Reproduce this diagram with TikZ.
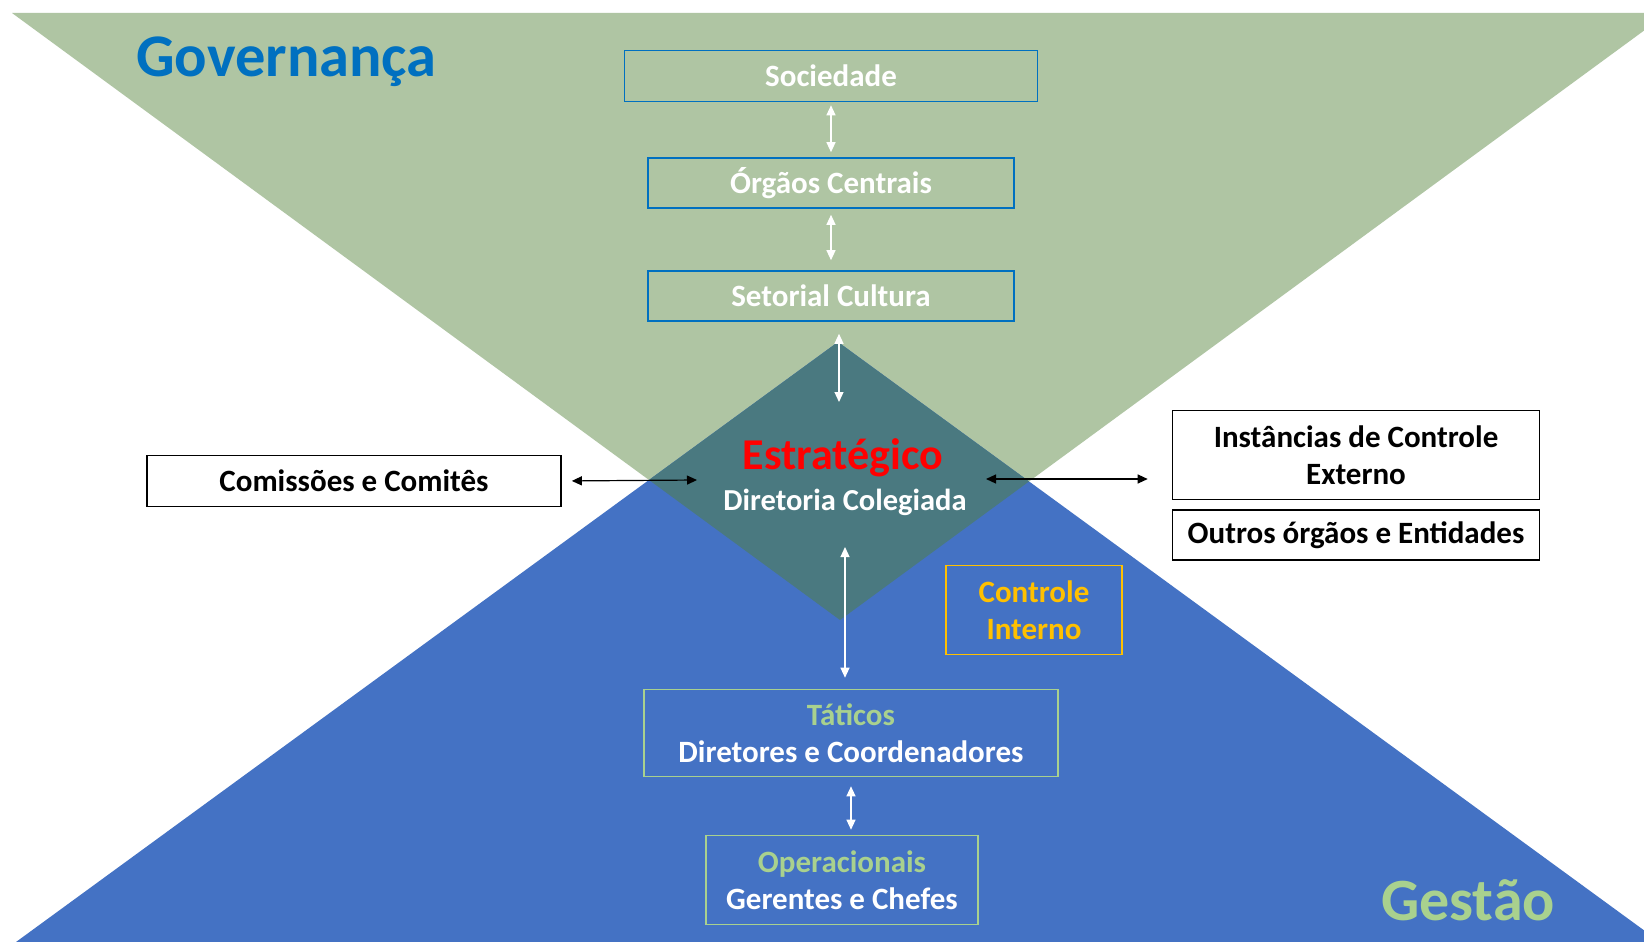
\documentclass[tikz,border=0pt]{standalone}
\usepackage{fontspec}
\setmainfont{Carlito}
\usetikzlibrary{arrows.meta}
\definecolor{govgreen}{RGB}{175,197,163}
\definecolor{gesblue}{RGB}{68,114,196}
\definecolor{dteal}{RGB}{74,121,128}
\definecolor{govtitle}{RGB}{0,112,192}
\definecolor{lgreen}{RGB}{169,209,142}
\definecolor{ciorange}{RGB}{255,192,0}
\begin{document}
\begin{tikzpicture}[x=1pt,y=-1pt,
  boxtext/.style={font=\bfseries\fontsize{31}{37}\selectfont, align=center, inner sep=0pt},
  topbox/.style={boxtext, draw=govtitle, line width=1.6pt, text=white},
  whitebox/.style={boxtext, draw=black, line width=1.6pt, fill=white, text=black},
  lowbox/.style={boxtext, draw=lgreen, line width=1.6pt, text=white},
  wa/.style={{Triangle[length=10pt,width=9pt]}-{Triangle[length=10pt,width=9pt]}, draw=white, line width=1.2pt},
  ba/.style={{Triangle[length=10pt,width=9pt]}-{Triangle[length=10pt,width=9pt]}, draw=black, line width=1.2pt}]
\path[use as bounding box] (0,0) rectangle (1644,942);
\fill[white] (0,0) rectangle (1644,942);
% background triangles
\begin{scope}
\clip (0,0) rectangle (1644,942);
\fill[govgreen] (12,13) -- (1668,13) -- (840,620) -- cycle;
\fill[gesblue] (838,342) -- (1660,942) -- (16,942) -- cycle;
\begin{scope}
\clip (12,13) -- (1668,13) -- (840,620) -- cycle;
\fill[dteal] (838,342) -- (1660,942) -- (16,942) -- cycle;
\end{scope}
\end{scope}
% titles
\node[anchor=base west, inner sep=0pt, text=govtitle, font=\bfseries\fontsize{60.5}{70}\selectfont] (gov) at (136,77) {Governança};
\node[anchor=base west, inner sep=0pt, text=lgreen, font=\bfseries\fontsize{60}{70}\selectfont] (ges) at (1381,920) {Gestão};
% top boxes
\node[topbox, minimum width=413pt, minimum height=51pt] (soc) at (831,76) {Sociedade};
\node[topbox, minimum width=366pt, minimum height=50pt] (org) at (831,183) {Órgãos Centrais};
\node[topbox, minimum width=366pt, minimum height=50pt] (set) at (831,296) {Setorial Cultura};
% centre
\node[anchor=base, inner sep=0pt, text=red, font=\bfseries\fontsize{44}{50}\selectfont] (estr) at (843,469) {Estratégico};
\node[anchor=base, inner sep=0pt, text=white, font=\bfseries\fontsize{30.5}{34}\selectfont] (dir) at (845,510) {Diretoria Colegiada};
\coordinate (dtop) at (839,402);
\coordinate (dbot) at (845,547);
\coordinate (dleft) at (697,480);
\coordinate (dright) at (986,479);
% side boxes
\node[whitebox, minimum width=414pt, minimum height=51pt] (com) at (354,481) {Comissões e Comitês};
\node[whitebox, minimum width=367pt, minimum height=89pt] (inst) at (1356,455) {Instâncias de Controle\\Externo};
\node[whitebox, minimum width=367pt, minimum height=50pt] (out) at (1356,535) {Outros órgãos e Entidades};
\node[boxtext, draw=ciorange, line width=1.6pt, text=ciorange, minimum width=176pt, minimum height=89pt] (ci) at (1034,610) {Controle\\Interno};
% lower boxes
\node[lowbox, minimum width=414pt, minimum height=87pt] (tat) at (851,733) {\textcolor{lgreen}{Táticos}\\Diretores e Coordenadores};
\node[lowbox, minimum width=272pt, minimum height=89pt] (ope) at (842,880) {\textcolor{lgreen}{Operacionais}\\Gerentes e Chefes};
% connectors
\draw[wa, shorten <=3pt, shorten >=5pt] (soc.south) -- (org.north);
\draw[wa, shorten <=6pt, shorten >=10pt] (org.south) -- (set.north);
\draw[wa, shorten <=12pt] (dtop |- set.south) -- (dtop);
\draw[wa, shorten >=11pt] (dbot) -- (dbot |- tat.north);
\draw[wa, shorten <=9pt, shorten >=5pt] (tat.south) -- (tat.south |- ope.north);
\draw[ba, shorten <=10pt] (com.east) -- (dleft);
\draw[ba, shorten >=24pt] (dright) -- (dright -| inst.west);
\end{tikzpicture}
\end{document}
